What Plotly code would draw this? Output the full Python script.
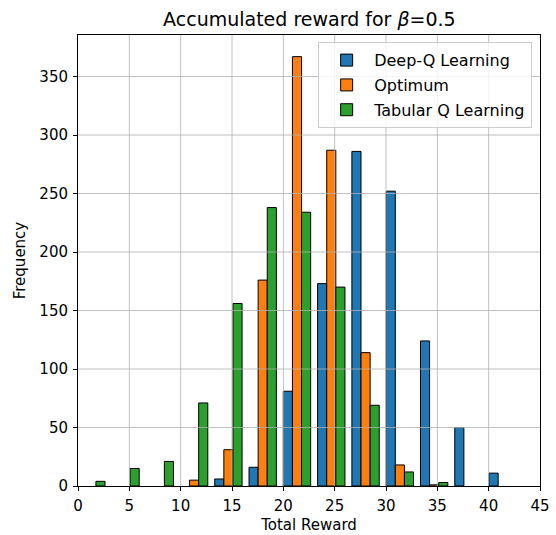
import plotly.graph_objects as go

# Histogram bin centers (13 bins, width ~3.34)
bin_centers = [1.30, 4.63, 7.97, 11.31, 14.65, 17.99, 21.33, 24.67, 28.01, 31.35, 34.69, 38.03, 41.37]

deep_q =  [0, 0, 0, 0, 6, 16, 81, 173, 286, 252, 124, 50, 11]
optimum = [0, 0, 0, 5, 31, 176, 367, 287, 114, 18, 1, 0, 0]
tabular = [4, 15, 21, 71, 156, 238, 234, 170, 69, 12, 3, 0, 0]

series_names = ["Deep-Q Learning", "Optimum", "Tabular Q Learning"]
series_colors = ["#1f77b4", "#ff7f0e", "#2ca02c"]

x_ticks = [0, 5, 10, 15, 20, 25, 30, 35, 40, 45]
y_ticks = [0, 50, 100, 150, 200, 250, 300, 350]

FONT = "DejaVu Sans"

fig = go.Figure()
for i, (name, vals, col) in enumerate(zip(series_names, [deep_q, optimum, tabular], series_colors)):
    fig.add_trace(go.Bar(
        x=bin_centers, y=[v if v > 0 else None for v in vals], name=name,
        legendgroup=f"g{i}",
        marker=dict(color=col, line=dict(color="black", width=1)),
    ))

# grid drawn above bars (matplotlib style)
shapes = []
for xv in x_ticks[1:-1]:
    shapes.append(dict(type="line", xref="x", yref="paper", x0=xv, x1=xv, y0=0, y1=1,
                       line=dict(color="#b0b0b0", width=0.8), layer="above"))
for yv in y_ticks[1:]:
    shapes.append(dict(type="line", xref="paper", yref="y", x0=0, x1=1, y0=yv, y1=yv,
                       line=dict(color="#b0b0b0", width=0.8), layer="above"))

fig.update_layout(
    width=556, height=535,
    margin=dict(l=78, r=16, t=35, b=49, autoexpand=False),
    paper_bgcolor="white", plot_bgcolor="white",
    font=dict(family=FONT, size=15, color="black"),
    barmode="group", bargap=0.2, bargroupgap=0,
    title=dict(text="Accumulated reward for <i>β</i>=0.5", x=0.5565, xanchor="center",
               y=1 - 19 / 535, yanchor="middle", yref="container",
               font=dict(family=FONT, size=19, color="black")),
    shapes=shapes,
    legend=dict(x=0.983, y=0.984, xanchor="right", yanchor="top",
                bgcolor="rgba(255,255,255,0.8)", bordercolor="#cccccc", borderwidth=1,
                font=dict(family=FONT, size=16), tracegroupgap=1, traceorder="grouped",
                itemwidth=45),
    xaxis=dict(range=[0, 45], tickvals=x_ticks, ticks="outside", ticklen=4,
               tickcolor="black", showgrid=False, zeroline=False,
               showline=True, linecolor="black", linewidth=1, mirror=True,
               ticklabelstandoff=2, automargin=False,
               title=dict(text="Total Reward", font=dict(size=15), standoff=5)),
    yaxis=dict(range=[0, 385.5], tickvals=y_ticks, ticks="outside", ticklen=4,
               tickcolor="black", showgrid=False, zeroline=False,
               showline=True, linecolor="black", linewidth=1, mirror=True,
               ticklabelstandoff=2, automargin=False,
               title=dict(text="Frequency", font=dict(size=15), standoff=10)),
)

fig.write_html("out.html", config={"displayModeBar": False},
               post_script="document.body.style.margin='0px';")
